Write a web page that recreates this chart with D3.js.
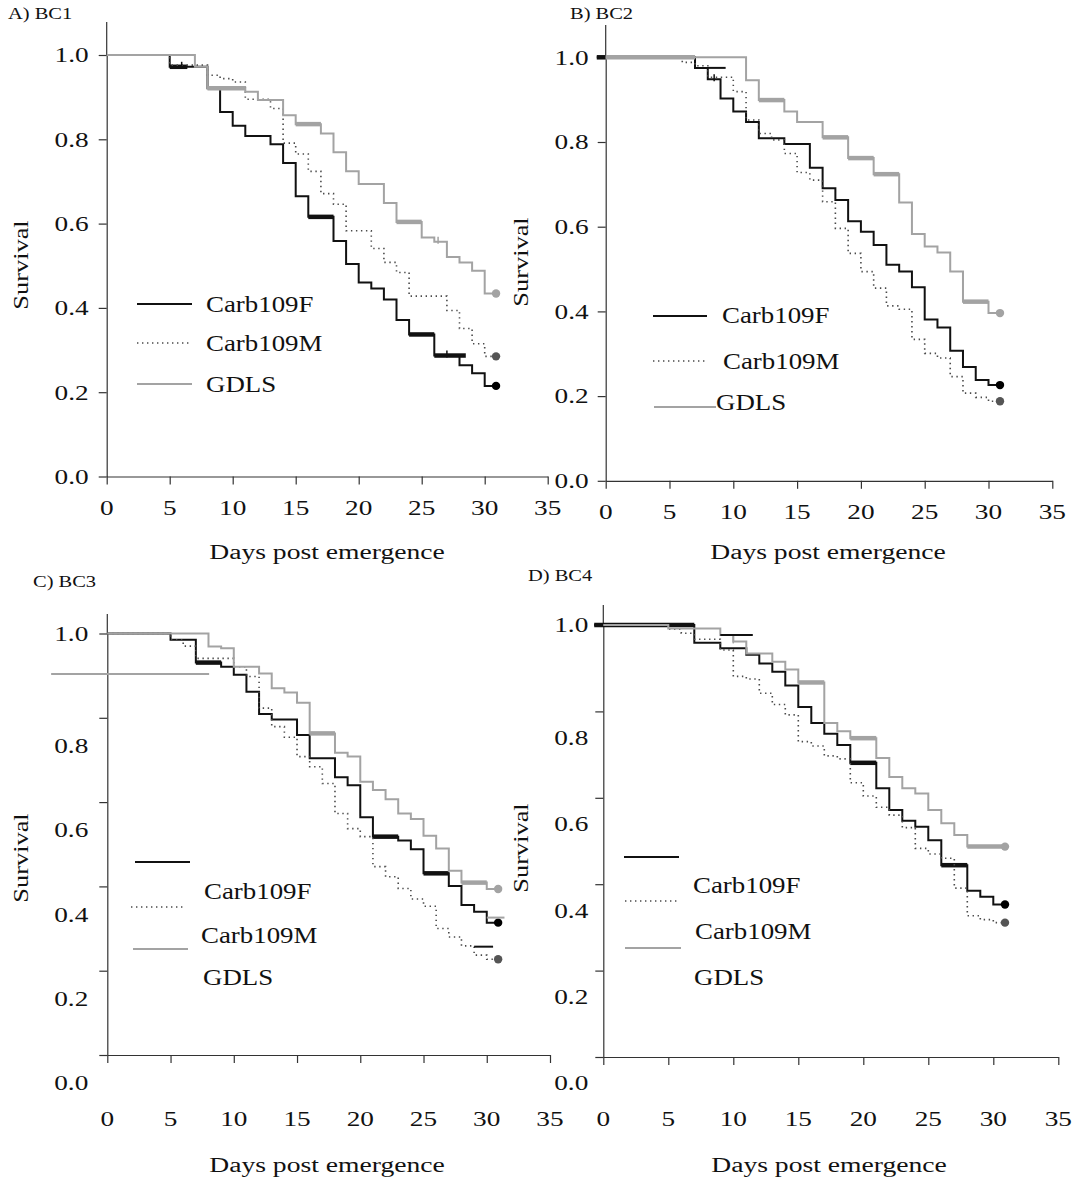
<!DOCTYPE html>
<html>
<head>
<meta charset="utf-8">
<script src="https://cdn.jsdelivr.net/npm/d3@7"></script>
<style>
    body { margin: 0; background: #fff; }
    text { font-family: "Liberation Serif", "Times New Roman", serif; fill: #111; }
</style>
</head>
<body>
<svg id="chart" width="1073" height="1181"></svg>
<script>
const seriesNames = ["Carb109F", "Carb109M", "GDLS"];
const panelTitles = ["A) BC1", "B) BC2", "C) BC3", "D) BC4"];
const xTicks = [0, 5, 10, 15, 20, 25, 30, 35];
const yTicks = [0, 0.2, 0.4, 0.6, 0.8, 1.0];
const lastDay = 30.9;

// survival steps: [day, survival after the step]
const bc1F = [[0, 1], [5, 0.972], [8, 0.921], [9, 0.865], [10, 0.832], [11, 0.808], [13, 0.788], [14, 0.744], [15, 0.665], [16, 0.616], [18, 0.559], [19, 0.504], [20, 0.46], [21, 0.446], [22, 0.42], [23, 0.371], [24, 0.337], [26, 0.287], [28, 0.264], [29, 0.245], [30, 0.215]];
const bc1M = [[0, 1], [5, 0.976], [8, 0.952], [9, 0.944], [10, 0.936], [11, 0.895], [13, 0.873], [14, 0.791], [15, 0.765], [16, 0.724], [17, 0.671], [18, 0.646], [19, 0.583], [21, 0.541], [22, 0.508], [23, 0.484], [24, 0.428], [27, 0.394], [28, 0.351], [29, 0.315], [30, 0.285]];
const bc1G = [[0, 1], [7, 0.972], [8, 0.921], [11, 0.913], [12, 0.893], [14, 0.857], [15, 0.836], [17, 0.814], [18, 0.769], [19, 0.724], [20, 0.694], [22, 0.649], [23, 0.604], [25, 0.567], [26, 0.557], [27, 0.521], [28, 0.508], [29, 0.488], [30, 0.434]];

const bc2F = [[-0.7, 1], [7, 0.975], [8, 0.948], [9, 0.903], [10, 0.872], [11, 0.847], [12, 0.809], [14, 0.795], [16, 0.739], [17, 0.691], [18, 0.663], [19, 0.613], [20, 0.588], [21, 0.557], [22, 0.51], [23, 0.494], [24, 0.457], [25, 0.381], [26, 0.362], [27, 0.307], [28, 0.269], [29, 0.238], [30, 0.226]];
const bc2M = [[0, 1], [6, 0.988], [7, 0.98], [8, 0.953], [10, 0.919], [11, 0.852], [12, 0.82], [13, 0.805], [14, 0.773], [15, 0.728], [16, 0.71], [17, 0.659], [18, 0.596], [19, 0.537], [20, 0.494], [21, 0.455], [22, 0.413], [23, 0.405], [24, 0.334], [25, 0.301], [26, 0.29], [27, 0.246], [28, 0.207], [29, 0.197], [30, 0.188]];
const bc2G = [[0, 1], [11, 0.946], [12, 0.899], [14, 0.872], [15, 0.847], [17, 0.811], [19, 0.762], [21, 0.724], [23, 0.657], [24, 0.583], [25, 0.553], [26, 0.539], [27, 0.494], [28, 0.423], [30, 0.396]];

const bc3F = [[0, 1], [5, 0.985], [7, 0.931], [9, 0.921], [10, 0.902], [11, 0.862], [12, 0.809], [13, 0.796], [15, 0.759], [16, 0.704], [18, 0.659], [19, 0.64], [20, 0.564], [21, 0.518], [23, 0.509], [24, 0.488], [25, 0.431], [27, 0.401], [28, 0.356], [29, 0.34], [30, 0.314]];
const bc3M = [[0, 1], [5, 0.985], [6, 0.97], [7, 0.941], [10, 0.921], [11, 0.898], [12, 0.823], [13, 0.779], [14, 0.754], [15, 0.708], [16, 0.684], [17, 0.644], [18, 0.573], [19, 0.537], [20, 0.518], [21, 0.447], [22, 0.423], [23, 0.395], [24, 0.37], [25, 0.353], [26, 0.3], [27, 0.28], [28, 0.259], [29, 0.237], [30, 0.227]];
const bc3G = [[0, 1], [8, 0.969], [9, 0.965], [10, 0.921], [12, 0.905], [13, 0.87], [14, 0.86], [15, 0.836], [16, 0.763], [18, 0.717], [19, 0.708], [20, 0.648], [21, 0.629], [22, 0.607], [23, 0.573], [24, 0.56], [25, 0.52], [26, 0.49], [27, 0.437], [28, 0.409], [30, 0.394]];

const bc4F = [[-0.7, 1], [7, 0.959], [9, 0.946], [11, 0.931], [12, 0.911], [13, 0.892], [14, 0.86], [15, 0.81], [16, 0.773], [17, 0.748], [18, 0.722], [19, 0.681], [21, 0.622], [22, 0.572], [23, 0.547], [24, 0.533], [25, 0.502], [26, 0.444], [28, 0.385], [29, 0.371], [30, 0.353]];
const bc4M = [[0, 1], [5, 0.99], [6, 0.981], [7, 0.967], [9, 0.942], [10, 0.881], [11, 0.875], [12, 0.842], [13, 0.816], [14, 0.792], [15, 0.73], [16, 0.72], [17, 0.697], [18, 0.69], [19, 0.635], [20, 0.604], [21, 0.578], [22, 0.56], [23, 0.531], [24, 0.483], [25, 0.47], [26, 0.46], [27, 0.391], [28, 0.327], [29, 0.318], [30, 0.311]];
const bc4G = [[0, 1], [5, 0.992], [9, 0.977], [10, 0.962], [11, 0.934], [13, 0.915], [14, 0.897], [15, 0.867], [17, 0.773], [18, 0.754], [19, 0.738], [21, 0.692], [22, 0.648], [23, 0.622], [24, 0.61], [25, 0.572], [26, 0.541], [27, 0.514], [28, 0.487]];

// day intervals where a step is drawn heavier (overlapping censor marks)
const bc1Thick = [[[5, 6.4], [16, 18], [24, 26], [26, 28.5]], [], [[8, 11], [15, 17], [23, 25]]];
const bc2Thick = [[[-0.7, 0]], [], [[0, 7], [12, 14], [17, 19], [19, 21], [21, 23], [28, 30]]];
const bc3Thick = [[[7, 9], [21, 23], [25, 27]], [], [[16, 18], [28, 30]]];
const bc4Thick = [[[-0.7, 7], [19, 21], [26, 28]], [], [[15, 17], [19, 21], [28, lastDay]]];

// censor ticks: [series, day]
const bc1Censor = [[0, 5.95], [0, 27], [2, 26.3]];
const bc2Censor = [[0, 8.5]];
const bc3Censor = [];
const bc4Censor = [[2, 10]];

// loose segments: [series, day from, day to, survival]
const bc1Loose = [];
const bc2Loose = [[0, 8, 9.4, 0.975]];
const bc3Loose = [[2, -4.44, 8.05, 0.904], [0, 29, 30.5, 0.257], [2, 30, 31.4, 0.326]];
const bc4Loose = [[0, 9, 11.5, 0.977]];

const curves = [[bc1F, bc1M, bc1G], [bc2F, bc2M, bc2G], [bc3F, bc3M, bc3G], [bc4F, bc4M, bc4G]];
const thicks = [bc1Thick, bc2Thick, bc3Thick, bc4Thick];
const censors = [bc1Censor, bc2Censor, bc3Censor, bc4Censor];
const looses = [bc1Loose, bc2Loose, bc3Loose, bc4Loose];

const seriesStyle = [
    { stroke: "#111", width: 2, dash: null, dot: "#000" },
    { stroke: "#4a4a4a", width: 1.6, dash: "1.4,3.6", dot: "#555" },
    { stroke: "#a3a3a3", width: 2, dash: null, dot: "#a3a3a3" }
];

const layout = [
    { x0: 106.7, x1: 547.7, y0: 476.5, y1: 55, top: 22, gap: 18, shift: 0, xdy: 31,
      title: [8, 14], surv: [20, 265], days: [327, 552],
      legLines: [[137, 192, 304], [137, 192, 343], [137, 192, 384]],
      legText: [[206, 304], [206, 343], [206, 384]] },
    { x0: 605.7, x1: 1052.3, y0: 480.8, y1: 57.3, top: 25, gap: 17, shift: 0, xdy: 31,
      title: [570, 14], surv: [520, 262], days: [828, 552],
      legLines: [[653, 707, 316], [653, 707, 361], [654, 716, 407]],
      legText: [[722, 315], [723, 361], [716, 402]] },
    { x0: 107.3, x1: 550, y0: 1055, y1: 633.5, top: 614, gap: 19, shift: 28, xdy: 64,
      title: [33, 582], surv: [20, 858], days: [327, 1165],
      legLines: [[135, 190, 862], [131, 184, 907], [133, 188, 949]],
      legText: [[204, 891], [201, 935], [203, 977]] },
    { x0: 603.3, x1: 1058.3, y0: 1057, y1: 625, top: 605, gap: 15, shift: 26, xdy: 62,
      title: [528, 576], surv: [520, 848], days: [829, 1165],
      legLines: [[624, 679, 857], [625, 678, 901], [625, 681, 948]],
      legText: [[693, 885], [695, 931], [694, 977]] }
];

const svg = d3.select("#chart");

function valueAt(steps, day) {
    let v = steps[0][1];
    steps.forEach(s => { if (s[0] <= day + 1e-9) v = s[1]; });
    return v;
}

function stretched(g, str, x, y, size, sx, anchor) {
    return g.append("text")
        .attr("transform", `translate(${x},${y}) scale(${sx},1)`)
        .attr("text-anchor", anchor)
        .attr("dominant-baseline", "central")
        .style("font-size", size + "px")
        .text(str);
}

function styleLine(sel, i, w) {
    let st = seriesStyle[i];
    sel.attr("fill", "none")
        .attr("stroke", st.stroke)
        .attr("stroke-width", w || st.width);
    if (st.dash && !w) sel.attr("stroke-dasharray", st.dash);
    return sel;
}

layout.forEach(function (L, p) {
    let g = svg.append("g");
    let x = d3.scaleLinear().domain([0, 35]).range([L.x0, L.x1]);
    let y = d3.scaleLinear().domain([0, 1]).range([L.y0, L.y1]);

    // axes
    let ya = g.append("g").attr("transform", `translate(${L.x0},0)`)
        .call(d3.axisLeft(y).tickValues(yTicks).tickSize(8).tickSizeOuter(0).tickFormat(""));
    let xa = g.append("g").attr("transform", `translate(0,${L.y0})`)
        .call(d3.axisBottom(x).tickValues(xTicks).tickSize(8).tickSizeOuter(0).tickFormat(""));
    g.append("line").attr("x1", L.x0).attr("x2", L.x0).attr("y1", y(1)).attr("y2", L.top);
    g.selectAll("path.domain, line").attr("stroke", "#333").attr("stroke-width", 1.2);

    yTicks.forEach(v => {
        let yy = y(v) + (v === 1 ? 0 : L.shift);
        stretched(g, d3.format(".1f")(v), L.x0 - L.gap, yy, 21, 1.3, "end");
    });
    xTicks.forEach(d => stretched(g, d, x(d), L.y0 + L.xdy, 21, 1.3, "middle"));

    stretched(g, panelTitles[p], L.title[0], L.title[1], 16, 1.28, "start");
    stretched(g, "Days post emergence", L.days[0], L.days[1], 20, 1.38, "middle");
    g.append("text")
        .attr("transform", `translate(${L.surv[0]},${L.surv[1]}) rotate(-90) scale(1.2,1)`)
        .attr("text-anchor", "middle").attr("dominant-baseline", "central")
        .style("font-size", "22px").text("Survival");

    // curves
    let line = d3.line().x(d => x(d[0])).y(d => y(d[1])).curve(d3.curveStepAfter);
    curves[p].forEach(function (steps, i) {
        let pts = steps.concat([[lastDay, steps[steps.length - 1][1]]]);
        styleLine(g.append("path").attr("d", line(pts)), i);

        thicks[p][i].forEach(t => {
            let v = valueAt(steps, t[0]);
            styleLine(g.append("line")
                .attr("x1", x(t[0])).attr("x2", x(t[1]))
                .attr("y1", y(v)).attr("y2", y(v)), i, 4.5);
        });

        g.append("circle")
            .attr("cx", x(lastDay)).attr("cy", y(steps[steps.length - 1][1]))
            .attr("r", 4.2).attr("fill", seriesStyle[i].dot);
    });

    censors[p].forEach(c => {
        let v = valueAt(curves[p][c[0]], c[1]);
        styleLine(g.append("line").attr("x1", x(c[1])).attr("x2", x(c[1]))
            .attr("y1", y(v) - 5).attr("y2", y(v) + 2), c[0], 1.5);
    });

    looses[p].forEach(s => {
        styleLine(g.append("line").attr("x1", x(s[1])).attr("x2", x(s[2]))
            .attr("y1", y(s[3])).attr("y2", y(s[3])), s[0]);
    });

    // legend
    seriesNames.forEach(function (name, i) {
        let ll = L.legLines[i];
        styleLine(g.append("line").attr("x1", ll[0]).attr("x2", ll[1])
            .attr("y1", ll[2]).attr("y2", ll[2]), i);
        stretched(g, name, L.legText[i][0], L.legText[i][1], 24, 1.12, "start");
    });
});
</script>
</body>
</html>
